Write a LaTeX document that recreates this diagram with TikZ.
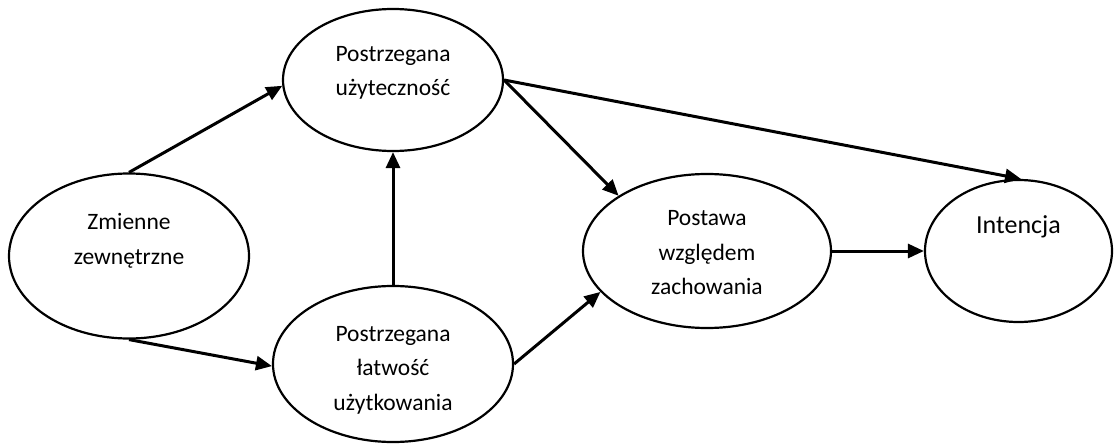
\documentclass[tikz,border=0pt]{standalone}
\usepackage{fontspec}
\setmainfont{Carlito}
\usetikzlibrary{arrows.meta,shapes.geometric}
\begin{document}
\begin{tikzpicture}[x=1pt,y=-1pt,
  ell/.style={draw, ellipse, line width=2.2pt, inner sep=0pt},
  txt/.style={align=center, inner sep=0pt, font=\fontsize{23.5}{34.5}\selectfont},
  bigtxt/.style={align=center, inner sep=0pt, font=\fontsize{26}{34.5}\selectfont},
  arr/.style={line width=3pt, -{Triangle[length=16pt,width=14pt]}}]
\useasboundingbox (0,0) rectangle (1114,444);
% model components
\node[ell, minimum width=240pt, minimum height=165pt,
  label={[txt,yshift=15pt]center:{Zmienne\\zewnętrzne}}] (zm) at (129,256) {};
\node[ell, minimum width=220pt, minimum height=142pt,
  label={[txt,yshift=7pt]center:{Postrzegana\\użyteczność}}] (pu) at (393,80) {};
\node[ell, minimum width=240pt, minimum height=156pt,
  label={[txt,yshift=-6pt]center:{Postrzegana\\łatwość\\użytkowania}}] (pl) at (393,364) {};
\node[ell, minimum width=248pt, minimum height=154pt,
  label={[txt,yshift=-2pt]center:{Postawa\\względem\\zachowania}}] (po) at (707,251) {};
\node[ell, minimum width=187pt, minimum height=142pt,
  label={[bigtxt,yshift=24pt]center:{Intencja}}] (in) at (1018.5,251) {};
% relations
\draw[arr] (zm.north) -- (pu.183);
\draw[arr] (zm.south) -- (pl.181);
\draw[arr] (pl.north) -- (pu.south);
\draw[arr] (pu.east) -- (po.148);
\draw[arr] (pu.east) -- (in.88);
\draw[arr] (pl.east) -- (po.201);
\draw[arr] (po.east) -- (in.west);
\end{tikzpicture}
\end{document}
